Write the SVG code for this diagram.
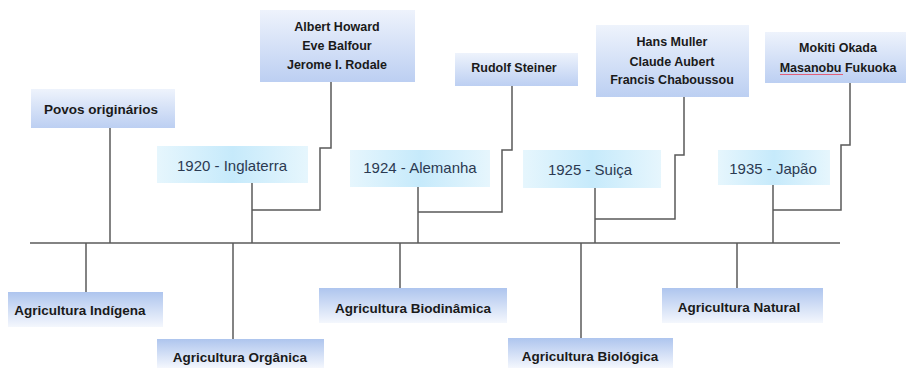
<svg xmlns="http://www.w3.org/2000/svg" width="906" height="368" viewBox="0 0 906 368">
<defs>
<linearGradient id="gDown" x1="0" y1="0" x2="0" y2="1">
<stop offset="0" stop-color="#eef3fc"/>
<stop offset="1" stop-color="#bccff2"/>
</linearGradient>
<linearGradient id="gUp" x1="0" y1="0" x2="0" y2="1">
<stop offset="0" stop-color="#aec5ee"/>
<stop offset="1" stop-color="#f4f7fd"/>
</linearGradient>
<linearGradient id="gYear" x1="0" y1="0" x2="1" y2="0">
<stop offset="0" stop-color="#e6f6fd"/>
<stop offset="0.5" stop-color="#c6eafb"/>
<stop offset="1" stop-color="#e6f6fd"/>
</linearGradient>
</defs>
<style>
.nb{fill:url(#gDown);}
.bb{fill:url(#gUp);}
.yb{fill:url(#gYear);}
.ln{fill:none;stroke:#5a5a5a;stroke-width:1.5;}
.t{font-family:"Liberation Sans",Arial,sans-serif;font-weight:bold;font-size:13.5px;fill:#1a1a1a;text-anchor:middle;}
.tn{font-family:"Liberation Sans",Arial,sans-serif;font-weight:bold;font-size:12.5px;fill:#1a1a1a;text-anchor:middle;}
.y{font-family:"Liberation Sans",Arial,sans-serif;font-size:15px;fill:#2b3a52;text-anchor:middle;}
</style>
<rect width="906" height="368" fill="#ffffff"/>
<g id="connectors">
<line class="ln" x1="30" y1="243" x2="840" y2="243"/>
<line class="ln" x1="110" y1="128" x2="110" y2="243"/>
<line class="ln" x1="252" y1="183" x2="252" y2="243"/>
<polyline class="ln" points="331,82 331,148 320,148 320,210 252,210"/>
<line class="ln" x1="418" y1="187" x2="418" y2="243"/>
<polyline class="ln" points="512,86 512,150 502,150 502,212 418,212"/>
<line class="ln" x1="595" y1="188" x2="595" y2="243"/>
<polyline class="ln" points="684,97 684,155 675,155 675,219 595,219"/>
<line class="ln" x1="773" y1="185" x2="773" y2="243"/>
<polyline class="ln" points="850,83 850,145 841,145 841,210 773,210"/>
<line class="ln" x1="86" y1="243" x2="86" y2="292"/>
<line class="ln" x1="233" y1="243" x2="233" y2="339"/>
<line class="ln" x1="400" y1="243" x2="400" y2="288"/>
<line class="ln" x1="581" y1="243" x2="581" y2="338"/>
<line class="ln" x1="737" y1="243" x2="737" y2="288"/>
</g>
<g id="n-howard">
<rect class="nb" x="260" y="10" width="155" height="72"/>
<text class="tn" x="337" y="31">Albert Howard</text>
<text class="tn" x="337" y="50">Eve Balfour</text>
<text class="tn" x="337" y="69">Jerome I. Rodale</text>
</g>
<g id="n-povos">
<rect class="nb" x="31" y="89" width="144" height="39"/>
<text class="t" x="101" y="114">Povos originários</text>
</g>
<g id="n-1920">
<rect class="yb" x="157" y="146" width="151" height="37"/>
<text class="y" x="232" y="171">1920 - Inglaterra</text>
</g>
<g id="n-1924">
<rect class="yb" x="350" y="150" width="140" height="37"/>
<text class="y" x="420" y="173">1924 - Alemanha</text>
</g>
<g id="n-steiner">
<rect class="nb" x="455" y="53" width="123" height="33"/>
<text class="tn" x="514" y="72">Rudolf Steiner</text>
</g>
<g id="n-muller">
<rect class="nb" x="596" y="25" width="153" height="72"/>
<text class="tn" x="672" y="46">Hans Muller</text>
<text class="tn" x="672" y="66">Claude Aubert</text>
<text class="tn" x="672" y="84">Francis Chaboussou</text>
</g>
<g id="n-okada">
<rect class="nb" x="765" y="32" width="141" height="51"/>
<text class="tn" x="838" y="52">Mokiti Okada</text>
<text class="tn" x="838" y="72">Masanobu Fukuoka</text>
<line x1="780" y1="74.5" x2="843" y2="74.5" stroke="#e0607a" stroke-width="1"/>
</g>
<g id="n-1925">
<rect class="yb" x="523" y="150" width="138" height="38"/>
<text class="y" x="590" y="175">1925 - Suiça</text>
</g>
<g id="n-1935">
<rect class="yb" x="718" y="150" width="112" height="35"/>
<text class="y" x="773" y="174">1935 - Japão</text>
</g>
<g id="n-indigena">
<rect class="bb" x="8" y="292" width="155" height="35"/>
<text class="t" x="80" y="315">Agricultura Indígena</text>
</g>
<g id="n-organica">
<rect class="bb" x="157" y="339" width="167" height="29"/>
<text class="t" x="240" y="362">Agricultura Orgânica</text>
</g>
<g id="n-biodinamica">
<rect class="bb" x="319" y="288" width="188" height="35"/>
<text class="t" x="413" y="313">Agricultura Biodinâmica</text>
</g>
<g id="n-biologica">
<rect class="bb" x="508" y="338" width="165" height="30"/>
<text class="t" x="590" y="361">Agricultura Biológica</text>
</g>
<g id="n-natural">
<rect class="bb" x="662" y="288" width="161" height="35"/>
<text class="t" x="739" y="312">Agricultura Natural</text>
</g>
</svg>
